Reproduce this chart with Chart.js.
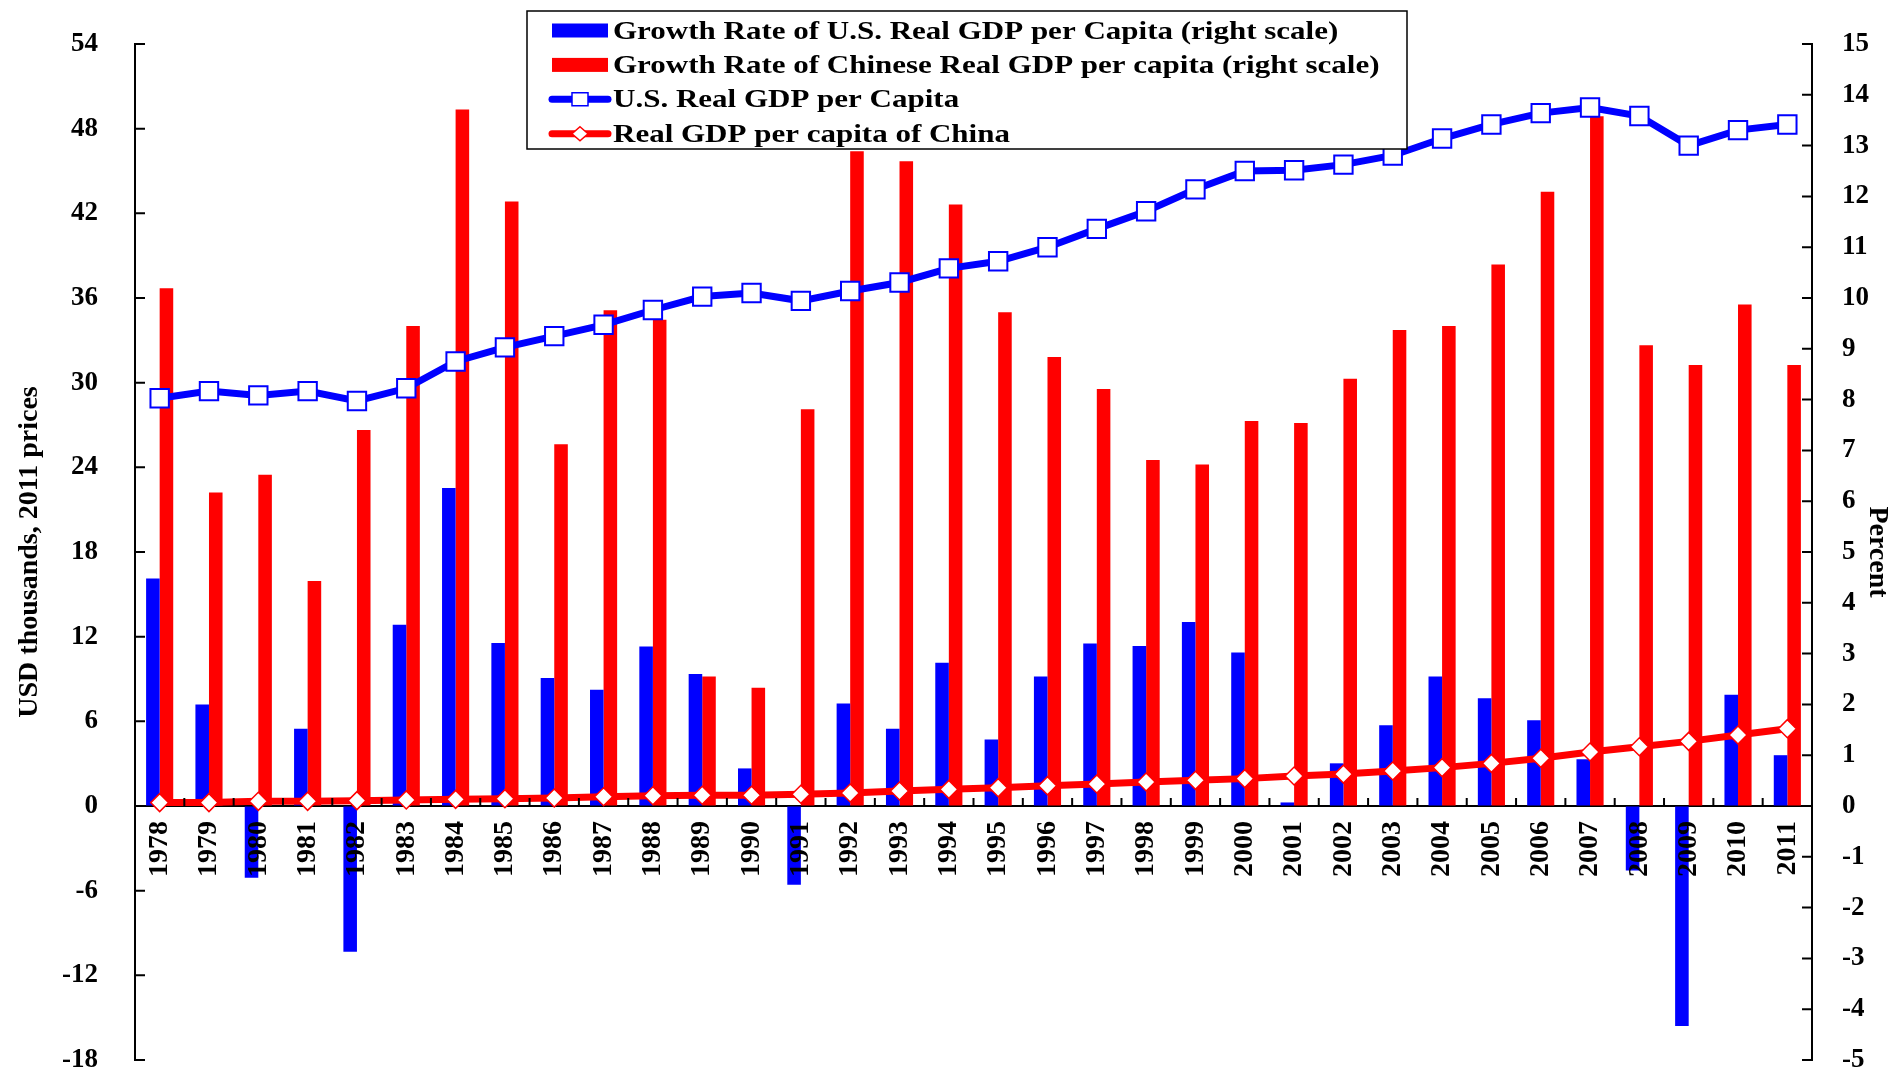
<!DOCTYPE html>
<html>
<head>
<meta charset="utf-8">
<title>U.S. and China real GDP per capita</title>
<script src="https://cdn.jsdelivr.net/npm/chart.js@4.4.1/dist/chart.umd.min.js"></script>
<style>
  html, body { margin: 0; padding: 0; background: #fff; }
  #wrap { width: 1895px; height: 1075px; position: relative; }
</style>
</head>
<body>
<div id="wrap"><canvas id="gdpChart"></canvas></div>
<script>
// Categories
const years = ["1978", "1979", "1980", "1981", "1982", "1983", "1984", "1985", "1986", "1987",
  "1988", "1989", "1990", "1991", "1992", "1993", "1994", "1995", "1996", "1997",
  "1998", "1999", "2000", "2001", "2002", "2003", "2004", "2005", "2006", "2007",
  "2008", "2009", "2010", "2011"];

// Growth rates, percent (right scale)
const usGrowth = [4.48, 2.0, -1.41, 1.52, -2.87, 3.57, 6.26, 3.21, 2.52, 2.29,
  3.14, 2.6, 0.74, -1.55, 2.02, 1.52, 2.82, 1.31, 2.55, 3.2,
  3.15, 3.62, 3.02, 0.07, 0.84, 1.59, 2.55, 2.12, 1.69, 0.92,
  -1.27, -4.33, 2.19, 1.0];
const chinaGrowth = [10.19, 6.17, 6.52, 4.43, 7.4, 9.45, 13.71, 11.9, 7.12, 9.76,
  9.57, 2.55, 2.33, 7.81, 12.89, 12.69, 11.84, 9.72, 8.84, 8.21,
  6.81, 6.72, 7.58, 7.54, 8.41, 9.37, 9.45, 10.66, 12.09, 13.58,
  9.07, 8.68, 9.87, 8.68];

// Real GDP per capita, USD thousands in 2011 prices (left scale)
const usGdp = [28.9, 29.4, 29.1, 29.4, 28.7, 29.6, 31.5, 32.5, 33.3, 34.1,
  35.15, 36.1, 36.35, 35.8, 36.5, 37.1, 38.1, 38.6, 39.6, 40.9,
  42.15, 43.7, 45.0, 45.05, 45.45, 46.1, 47.3, 48.3, 49.1, 49.5,
  48.9, 46.8, 47.9, 48.3];
const chinaGdp = [0.24, 0.24, 0.33, 0.33, 0.38, 0.43, 0.47, 0.52, 0.57, 0.66,
  0.73, 0.76, 0.76, 0.83, 0.92, 1.06, 1.18, 1.3, 1.44, 1.56,
  1.7, 1.82, 1.94, 2.13, 2.26, 2.48, 2.72, 3.02, 3.38, 3.83,
  4.2, 4.58, 5.03, 5.48];

// Axis ranges
const leftMin = -18, leftMax = 54, leftStep = 6;
const rightMin = -5, rightMax = 15, rightStep = 1;

const serif = "'Liberation Serif', 'Times New Roman', serif";
const blue = "#0000ff";
const red = "#ff0000";

// Short tick marks pointing into the plot, as in the original
const innerTicks = {
  id: "innerTicks",
  afterDraw(chart) {
    const { ctx, chartArea, scales } = chart;
    ctx.save();
    ctx.strokeStyle = "#000";
    ctx.lineWidth = 2;
    ctx.beginPath();
    scales.y.ticks.forEach((t, i) => {
      const py = scales.y.getPixelForTick(i);
      ctx.moveTo(chartArea.left, py);
      ctx.lineTo(chartArea.left + 10, py);
    });
    scales.y1.ticks.forEach((t, i) => {
      const py = scales.y1.getPixelForTick(i);
      ctx.moveTo(chartArea.right, py);
      ctx.lineTo(chartArea.right - 10, py);
    });
    const zeroY = scales.y.getPixelForValue(0);
    for (let i = 0; i <= years.length; i++) {
      const px = scales.x.getPixelForValue(i - 0.5);
      ctx.moveTo(px, zeroY);
      ctx.lineTo(px, zeroY - 8);
    }
    ctx.stroke();
    ctx.restore();
  }
};

// Boxed legend that sits over the top of the plot
const boxLegend = {
  id: "boxLegend",
  afterDraw(chart) {
    const ctx = chart.ctx;
    const left = 527, top = 11, width = 880, height = 138;
    ctx.save();
    ctx.fillStyle = "#fff";
    ctx.fillRect(left, top, width, height);
    ctx.strokeStyle = "#000";
    ctx.lineWidth = 1.5;
    ctx.strokeRect(left, top, width, height);

    chart.data.datasets.forEach((ds, i) => {
      const base = top + 27.5 + i * 34.4;
      const cy = base - 8;
      const sx = 552, sw = 56;
      if (ds.type === "bar") {
        ctx.fillStyle = ds.backgroundColor;
        ctx.fillRect(sx, cy - 7, sw, 14);
      } else {
        ctx.strokeStyle = ds.borderColor;
        ctx.lineWidth = 7;
        ctx.lineCap = "round";
        ctx.beginPath();
        ctx.moveTo(sx, cy);
        ctx.lineTo(sx + sw, cy);
        ctx.stroke();
        const mx = sx + sw / 2;
        ctx.fillStyle = "#fff";
        ctx.lineWidth = 1.5;
        ctx.beginPath();
        if (ds.pointStyle === "rect") {
          ctx.rect(mx - 8, cy - 6.5, 16, 13);
        } else {
          ctx.moveTo(mx, cy - 7);
          ctx.lineTo(mx + 8, cy);
          ctx.lineTo(mx, cy + 7);
          ctx.lineTo(mx - 8, cy);
          ctx.closePath();
        }
        ctx.fill();
        ctx.stroke();
      }
      ctx.fillStyle = "#000";
      ctx.font = "bold 25px " + serif;
      ctx.textBaseline = "alphabetic";
      ctx.textAlign = "left";
      ctx.save();
      ctx.translate(613, base);
      ctx.scale(1.24, 1);
      ctx.fillText(ds.label, 0, 0);
      ctx.restore();
    });
    ctx.restore();
  }
};

const tickFont = { family: serif, size: 27, weight: "bold", lineHeight: 1 };
const titleFont = { family: serif, size: 28, weight: "bold" };

new Chart(document.getElementById("gdpChart"), {
  data: {
    labels: years,
    datasets: [
      {
        type: "bar",
        label: "Growth Rate of U.S. Real GDP per Capita (right scale)",
        data: usGrowth,
        yAxisID: "y1",
        backgroundColor: blue,
        borderWidth: 0,
        categoryPercentage: 0.55,
        barPercentage: 1.0,
        order: 1
      },
      {
        type: "bar",
        label: "Growth Rate of Chinese Real GDP per capita (right scale)",
        data: chinaGrowth,
        yAxisID: "y1",
        backgroundColor: red,
        borderWidth: 0,
        categoryPercentage: 0.55,
        barPercentage: 1.0,
        order: 1
      },
      {
        type: "line",
        label: "U.S. Real GDP per Capita",
        data: usGdp,
        yAxisID: "y",
        borderColor: blue,
        borderWidth: 7,
        tension: 0,
        pointStyle: "rect",
        pointRadius: 13,
        pointBackgroundColor: "#fff",
        pointBorderColor: blue,
        pointBorderWidth: 2,
        order: 0
      },
      {
        type: "line",
        label: "Real GDP per capita of China",
        data: chinaGdp,
        yAxisID: "y",
        borderColor: red,
        borderWidth: 7,
        tension: 0,
        pointStyle: "rectRot",
        pointRadius: 9,
        pointBackgroundColor: "#fff",
        pointBorderColor: red,
        pointBorderWidth: 1.5,
        order: 0
      }
    ]
  },
  options: {
    responsive: true,
    maintainAspectRatio: false,
    animation: false,
    layout: { padding: { top: 44, bottom: 14, left: 0, right: 0 } },
    plugins: {
      legend: { display: false },
      tooltip: { enabled: false }
    },
    scales: {
      x: {
        position: { y: 0 },
        offset: true,
        grid: { display: true, drawOnChartArea: false, drawTicks: false },
        border: { color: "#000", width: 2 },
        ticks: {
          z: 1, // year labels sit on top of the negative bars
          autoSkip: false,
          maxRotation: 90,
          minRotation: 90,
          padding: 15,
          color: "#000",
          font: { family: serif, size: 28, weight: "bold" }
        }
      },
      y: {
        position: "left",
        min: leftMin,
        max: leftMax,
        // invisible tick marks keep the labels away from the axis
        grid: { drawOnChartArea: false, drawTicks: true, tickLength: 37, tickColor: "rgba(0,0,0,0)" },
        border: { color: "#000", width: 2 },
        ticks: { stepSize: leftStep, padding: 0, color: "#000", font: tickFont },
        title: {
          display: true,
          text: "USD thousands, 2011 prices",
          color: "#000",
          font: titleFont,
          padding: { top: 13, bottom: 0 }
        },
        afterFit: (scale) => { scale.width = 135; }
      },
      y1: {
        position: "right",
        min: rightMin,
        max: rightMax,
        grid: { drawOnChartArea: false, drawTicks: true, tickLength: 30, tickColor: "rgba(0,0,0,0)" },
        border: { color: "#000", width: 2 },
        ticks: { stepSize: rightStep, padding: 0, color: "#000", font: tickFont },
        title: {
          display: true,
          text: "Percent",
          color: "#000",
          font: titleFont,
          padding: { top: 1, bottom: 0 }
        },
        afterFit: (scale) => { scale.width = 83; }
      }
    }
  },
  plugins: [innerTicks, boxLegend]
});
</script>
</body>
</html>
